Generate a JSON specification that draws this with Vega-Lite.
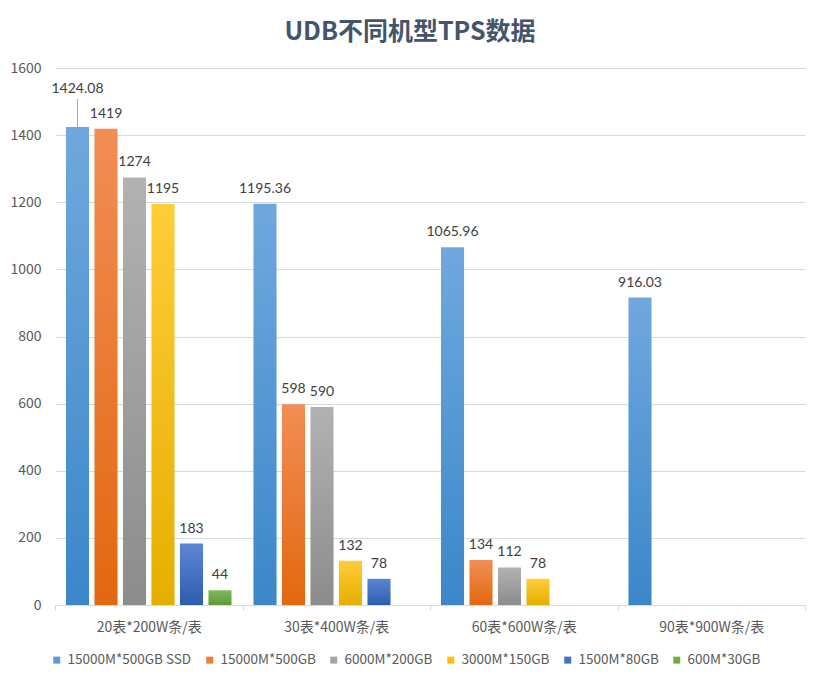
{
  "$schema": "https://vega.github.io/schema/vega-lite/v6.json",
  "width": 750,
  "height": 537,
  "autosize": {"type": "none"},
  "padding": {"left": 55, "top": 68, "right": 12, "bottom": 80},
  "background": "white",
  "title": {
    "text": "UDB不同机型TPS数据",
    "font": "Noto Sans CJK SC",
    "fontSize": 25,
    "fontWeight": "bold",
    "color": "#44546A",
    "anchor": "middle",
    "dx": -20,
    "offset": 16
  },
  "config": {
    "view": {"stroke": null},
    "axis": {"labelFont": "Noto Sans CJK SC", "labelColor": "#595959"}
  },
  "data": {
    "values": [
      {"group": "20表*200W条/表", "series": "15000M*500GB SSD", "value": 1424.08},
      {"group": "20表*200W条/表", "series": "15000M*500GB", "value": 1419},
      {"group": "20表*200W条/表", "series": "6000M*200GB", "value": 1274},
      {"group": "20表*200W条/表", "series": "3000M*150GB", "value": 1195},
      {"group": "20表*200W条/表", "series": "1500M*80GB", "value": 183},
      {"group": "20表*200W条/表", "series": "600M*30GB", "value": 44},
      {"group": "30表*400W条/表", "series": "15000M*500GB SSD", "value": 1195.36},
      {"group": "30表*400W条/表", "series": "15000M*500GB", "value": 598},
      {"group": "30表*400W条/表", "series": "6000M*200GB", "value": 590},
      {"group": "30表*400W条/表", "series": "3000M*150GB", "value": 132},
      {"group": "30表*400W条/表", "series": "1500M*80GB", "value": 78},
      {"group": "60表*600W条/表", "series": "15000M*500GB SSD", "value": 1065.96},
      {"group": "60表*600W条/表", "series": "15000M*500GB", "value": 134},
      {"group": "60表*600W条/表", "series": "6000M*200GB", "value": 112},
      {"group": "60表*600W条/表", "series": "3000M*150GB", "value": 78},
      {"group": "90表*900W条/表", "series": "15000M*500GB SSD", "value": 916.03}
    ]
  },
  "encoding": {
    "x": {
      "field": "group",
      "type": "nominal",
      "sort": null,
      "scale": {"paddingInner": 0, "paddingOuter": 0},
      "axis": {
        "title": null,
        "labelAngle": 0,
        "tickBand": "extent",
        "domainColor": "#d9d9d9",
        "tickColor": "#d9d9d9",
        "tickSize": 5,
        "labelFontSize": 14,
        "labelPadding": 10
      }
    },
    "xOffset": {
      "field": "series",
      "type": "nominal",
      "scale": {
        "domain": ["15000M*500GB SSD", "15000M*500GB", "6000M*200GB", "3000M*150GB", "1500M*80GB", "600M*30GB"],
        "paddingInner": 0.19,
        "paddingOuter": 0.385
      }
    },
    "y": {
      "field": "value",
      "type": "quantitative",
      "scale": {"domain": [0, 1600], "nice": false},
      "axis": {
        "title": null,
        "format": "d",
        "values": [0, 200, 400, 600, 800, 1000, 1200, 1400, 1600],
        "domain": false,
        "ticks": false,
        "gridColor": "#d9d9d9",
        "labelFontSize": 14,
        "labelPadding": 14
      }
    }
  },
  "layer": [
    {
      "mark": {"type": "bar"},
      "encoding": {
        "color": {
          "field": "series",
          "type": "nominal",
          "scale": {
            "domain": ["15000M*500GB SSD", "15000M*500GB", "6000M*200GB", "3000M*150GB", "1500M*80GB", "600M*30GB"],
            "range": ["#5B9BD5", "#ED7D31", "#A5A5A5", "#FFC000", "#4472C4", "#70AD47"]
          },
          "condition": [
            {"test": "datum.series === '15000M*500GB SSD'", "value": {"gradient": "linear", "x1": 0, "y1": 0, "x2": 0, "y2": 1, "stops": [{"offset": 0, "color": "#70A8DE"}, {"offset": 1, "color": "#3B87C9"}]}},
            {"test": "datum.series === '15000M*500GB'", "value": {"gradient": "linear", "x1": 0, "y1": 0, "x2": 0, "y2": 1, "stops": [{"offset": 0, "color": "#F28D55"}, {"offset": 1, "color": "#E2680F"}]}},
            {"test": "datum.series === '6000M*200GB'", "value": {"gradient": "linear", "x1": 0, "y1": 0, "x2": 0, "y2": 1, "stops": [{"offset": 0, "color": "#B2B2B2"}, {"offset": 1, "color": "#8C8C8C"}]}},
            {"test": "datum.series === '3000M*150GB'", "value": {"gradient": "linear", "x1": 0, "y1": 0, "x2": 0, "y2": 1, "stops": [{"offset": 0, "color": "#FFCD38"}, {"offset": 1, "color": "#E5AE00"}]}},
            {"test": "datum.series === '1500M*80GB'", "value": {"gradient": "linear", "x1": 0, "y1": 0, "x2": 0, "y2": 1, "stops": [{"offset": 0, "color": "#5C86D2"}, {"offset": 1, "color": "#2E5DB0"}]}},
            {"test": "datum.series === '600M*30GB'", "value": {"gradient": "linear", "x1": 0, "y1": 0, "x2": 0, "y2": 1, "stops": [{"offset": 0, "color": "#80BA5C"}, {"offset": 1, "color": "#5C9C33"}]}}
          ],
          "legend": {
            "title": null,
            "orient": "none",
            "legendX": -5,
            "legendY": 585,
            "direction": "horizontal",
            "columns": 6,
            "symbolType": "square",
            "symbolSize": 49,
            "symbolStrokeWidth": 0,
            "labelFont": "Noto Sans CJK SC",
            "labelFontSize": 13.5,
            "labelColor": "#595959",
            "labelOffset": 4,
            "columnPadding": 11
          }
        }
      }
    },
    {
      "transform": [{"filter": "datum.value < 1420"}],
      "mark": {"type": "text", "baseline": "alphabetic", "dy": -11, "font": "Lato", "fontSize": 14, "color": "#404040"},
      "encoding": {"text": {"field": "value", "type": "quantitative", "format": "~r"}}
    },
    {
      "transform": [{"filter": "datum.value >= 1420"}],
      "mark": {"type": "text", "baseline": "alphabetic", "dy": -34, "font": "Lato", "fontSize": 14, "color": "#404040"},
      "encoding": {"text": {"field": "value", "type": "quantitative", "format": "~r"}}
    },
    {
      "transform": [{"filter": "datum.value >= 1420"}],
      "mark": {"type": "rule", "color": "#a6a6a6", "strokeWidth": 1, "y2Offset": -28},
      "encoding": {"y2": {"field": "value"}}
    }
  ]
}
